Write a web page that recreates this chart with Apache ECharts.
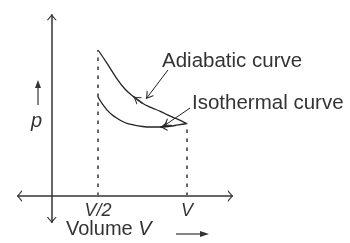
<!DOCTYPE html>
<html>
<head>
<meta charset="utf-8">
<script src="https://cdn.jsdelivr.net/npm/echarts@6/dist/echarts.min.js"></script>
<style>
html, body { margin: 0; padding: 0; background: #fff; }
#chart { width: 350px; height: 243px; }
</style>
</head>
<body>
<div id="chart"></div>
<script>
// volume in units of V, pressure in arbitrary units (schematic)
var volumes = [0.5, 0.55, 0.6, 0.65, 0.7, 0.75, 0.8, 0.85, 0.9, 0.95, 1.0];
var adiabaticP = [2.0, 1.82, 1.63, 1.47, 1.36, 1.27, 1.21, 1.16, 1.10, 1.05, 0.99];
var isothermalP = [1.356, 1.18, 1.075, 1.007, 0.973, 0.952, 0.945, 0.945, 0.955, 0.973, 0.993];

var tickValues = [0.5, 1];
var tickLabels = ['V/2', 'V'];

// axis extents (volume, pressure)
var pAxisAt = 0.24;
var pAxisRange = [-0.37, 2.49];
var vAxisRange = [0.045, 1.258];

// label leaders: [from, to]
var adiabaticLeader = [[0.893, 1.726], [0.77, 1.33]];
var isothermalLeader = [[1.017, 1.205], [0.87, 0.96]];

var ink = '#222';
var axisInk = '#333';
var font = 'Liberation Sans';
// open arrow head, tip in the middle of the box
var chevron = 'path://M5,-8L5.01,-8L5,-7.99Z M5,0L10,8L8.6,8L5,2.2L1.4,8L0,8Z';

function pair(a, b, size)
{
    return [
        {coord: a, symbol: 'none'},
        {coord: b, symbol: chevron, symbolSize: size}
    ];
}

function twoWay(a, b, size)
{
    return [
        {coord: a, symbol: chevron, symbolSize: size},
        {coord: b, symbol: chevron, symbolSize: size}
    ];
}

function zip(xs, ys)
{
    var out = [];
    for (var i = 0; i < xs.length; i++)
        out.push([xs[i], ys[i]]);
    return out;
}

// dashed drop line from the axis up to the curve start / end, labelled below
function dropLine(i, top)
{
    return [
        {
            coord: [tickValues[i], 0],
            symbol: 'none',
            lineStyle: {type: [3.5, 5.5], color: '#666', width: 2},
            label: {
                show: true,
                position: 'start',
                distance: 6,
                formatter: tickLabels[i],
                fontFamily: font,
                fontStyle: 'italic',
                fontSize: 18,
                color: axisInk
            }
        },
        {coord: [tickValues[i], top], symbol: 'none'}
    ];
}

var last = volumes.length - 1;
var myChart = echarts.init(document.getElementById('chart'));

option = {
    animation: false,
    grid: {
        left: 9,
        right: 74,
        top: 6.2,
        bottom: 10.5,
        outerBoundsMode: 'none'
    },
    xAxis: {
        type: 'value',
        min: 0,
        max: 1.5,
        show: false
    },
    yAxis: {
        type: 'value',
        min: -0.5,
        max: 2.6,
        show: false
    },
    series: [
        {
            name: 'Adiabatic curve',
            type: 'line',
            smooth: true,
            showSymbol: false,
            clip: false,
            silent: true,
            lineStyle: {color: ink, width: 1.3},
            data: zip(volumes, adiabaticP),
            markLine: {
                silent: true,
                label: {show: false},
                lineStyle: {color: axisInk, width: 1.5, type: 'solid'},
                data: [
                    twoWay([pAxisAt, pAxisRange[0]], [pAxisAt, pAxisRange[1]], [10, 12]),
                    twoWay([vAxisRange[0], 0], [vAxisRange[1], 0], [12, 10]),
                    dropLine(0, adiabaticP[0]),
                    dropLine(1, isothermalP[last]),
                    pair([volumes[5], adiabaticP[5]], [volumes[4], adiabaticP[4]], [9, 14]),
                    [
                        {coord: adiabaticLeader[0], symbol: 'none', lineStyle: {width: 1, color: ink}},
                        {coord: adiabaticLeader[1], symbol: chevron, symbolSize: [9, 14]}
                    ]
                ]
            }
        },
        {
            name: 'Isothermal curve',
            type: 'line',
            smooth: true,
            showSymbol: false,
            clip: false,
            silent: true,
            lineStyle: {color: ink, width: 1.3},
            data: zip(volumes, isothermalP),
            markLine: {
                silent: true,
                label: {show: false},
                lineStyle: {color: ink, width: 1.3, type: 'solid'},
                data: [
                    pair([volumes[8], isothermalP[8]], [volumes[7], isothermalP[7]], [9, 14]),
                    [
                        {coord: isothermalLeader[0], symbol: 'none', lineStyle: {width: 1, color: ink}},
                        {coord: isothermalLeader[1], symbol: chevron, symbolSize: [9, 14]}
                    ]
                ]
            }
        }
    ],
    graphic: [
        {
            type: 'text', x: 162, y: 61,
            style: {text: 'Adiabatic curve', fontFamily: font, fontSize: 20.5, fill: axisInk, textVerticalAlign: 'middle'}
        },
        {
            type: 'text', x: 192, y: 103,
            style: {text: 'Isothermal curve', fontFamily: font, fontSize: 20.5, fill: axisInk, textVerticalAlign: 'middle'}
        },
        {
            type: 'text', x: 31, y: 121,
            style: {text: 'p', fontFamily: font, fontStyle: 'italic', fontSize: 20, fill: axisInk, textVerticalAlign: 'middle'}
        },
        {
            type: 'line', shape: {x1: 38, y1: 105, x2: 38, y2: 86},
            style: {stroke: axisInk, lineWidth: 1.2}
        },
        {
            type: 'polygon', shape: {points: [[38, 80], [41, 88], [35, 88]]},
            style: {fill: axisInk}
        },
        {
            type: 'text', x: 66, y: 229.5,
            style: {
                text: '{n|Volume }{i|V}',
                textVerticalAlign: 'middle',
                rich: {
                    n: {fontFamily: font, fontSize: 20, fill: axisInk},
                    i: {fontFamily: font, fontSize: 20, fontStyle: 'italic', fill: axisInk}
                }
            }
        },
        {
            type: 'line', shape: {x1: 176, y1: 234, x2: 202, y2: 234},
            style: {stroke: axisInk, lineWidth: 1.2}
        },
        {
            type: 'polygon', shape: {points: [[209, 234], [200, 231], [200, 237]]},
            style: {fill: axisInk}
        }
    ]
};
myChart.setOption(option);
</script>
</body>
</html>
